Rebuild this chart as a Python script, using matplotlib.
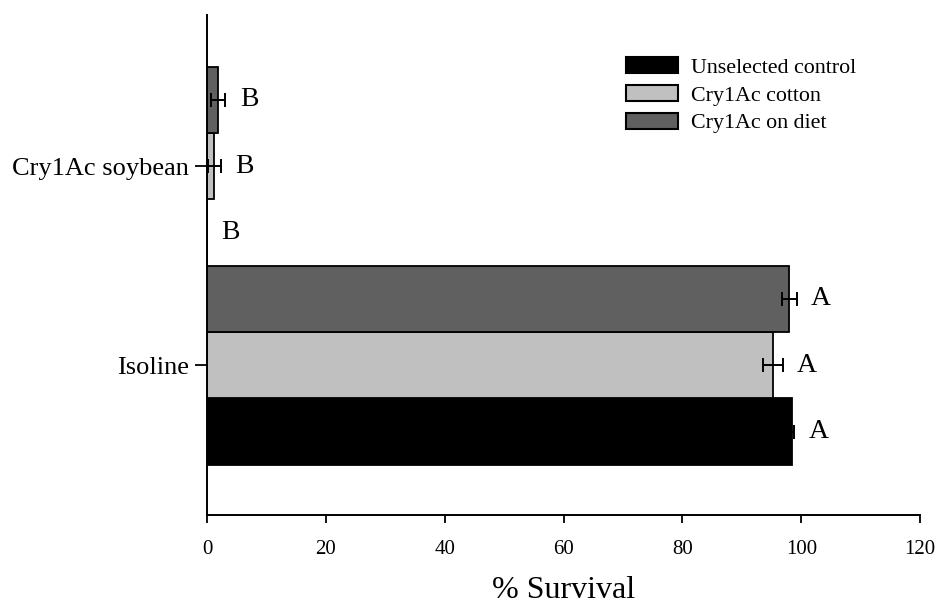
import matplotlib.pyplot as plt
import numpy as np

plt.rcParams['font.family'] = ['Liberation Serif', 'DejaVu Serif']

# data
categories = ['Isoline', 'Cry1Ac soybean']
series = ['Unselected control', 'Cry1Ac cotton', 'Cry1Ac on diet']
colors = ['#000000', '#c0c0c0', '#606060']

survival = {
	'Unselected control': [98.4, 0.0],
	'Cry1Ac cotton': [95.2, 1.2],
	'Cry1Ac on diet': [98.0, 1.9],
}
errors = {
	'Unselected control': [0.4, 0.0],
	'Cry1Ac cotton': [1.7, 1.1],
	'Cry1Ac on diet': [1.2, 1.2],
}
letters = {
	'Unselected control': ['A', 'B'],
	'Cry1Ac cotton': ['A', 'B'],
	'Cry1Ac on diet': ['A', 'B'],
}

fig = plt.figure(figsize=(9.37, 6.04), dpi=100)
ax = fig.add_axes([0.221, 0.147, 0.761, 0.828])

ypos = np.arange(len(categories))
h = 1.0 / 3

for i, s in enumerate(series):
	y = ypos + (i - 1) * h
	ax.barh(y, survival[s], height=h, color=colors[i], edgecolor='black', linewidth=1.3, label=s)
	ax.errorbar(survival[s], y, xerr=errors[s], fmt='none', ecolor='black', elinewidth=1.4, capsize=5, capthick=1.4)
	for k in range(len(categories)):
		ax.text(survival[s][k] + errors[s][k] + 2.4, y[k], letters[s][k], fontsize=20, va='center', ha='left')

ax.set_xlim(0, 120)
ax.set_ylim(-0.754, 1.76)
ax.set_xticks(np.arange(0, 121, 20))
ax.set_yticks(ypos)
ax.set_yticklabels(categories)
ax.tick_params(axis='x', labelsize=15, direction='out', length=6, width=1.3, pad=12)
ax.tick_params(axis='y', labelsize=19, direction='out', length=9, width=1.3, pad=4)
ax.set_xlabel('% Survival', fontsize=23, labelpad=12)

for side in ['top', 'right']:
	ax.spines[side].set_visible(False)
for side in ['left', 'bottom']:
	ax.spines[side].set_linewidth(1.4)

leg = ax.legend(loc='upper right', bbox_to_anchor=(0.938, 0.955), frameon=False, fontsize=15.8,
	handlelength=2.35, handleheight=0.75, labelspacing=0.32, handletextpad=0.6)
for p in leg.get_patches():
	p.set_linewidth(1.5)

fig.savefig('out.png', dpi=100)
